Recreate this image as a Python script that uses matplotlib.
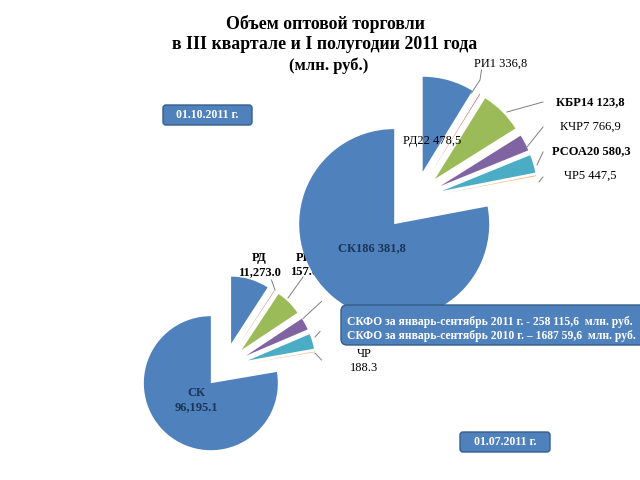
import matplotlib
matplotlib.use('Agg')
import matplotlib.pyplot as plt
from matplotlib.patches import FancyBboxPatch

plt.rcParams['font.family'] = ['Liberation Serif', 'DejaVu Serif']

# slice order (clockwise from top): РД, РИ, КБР, КЧР, РСОА, ЧР, СК
regions = ['РД', 'РИ', 'КБР', 'КЧР', 'РСОА', 'ЧР', 'СК']
colors = ['#4F81BD', '#C0504D', '#9BBB59', '#8064A2', '#4BACC6', '#F79646', '#4F81BD']

# 01.10.2011 - angular shares (РИ, ЧР are hairlines)
oct_share = [31.5, 0.4, 26, 10, 11, 0.4, 280.7]
oct_text = ['РД22 478,5', 'РИ1 336,8', 'КБР14 123,8', 'КЧР7 766,9',
            'РСОА20 580,3', 'ЧР5 447,5', 'СК186 381,8']

# 01.07.2011
jul_share = [33, 0.4, 23, 10.5, 13, 0.4, 279.7]
jul_text = ['РД\n11,273.0', 'РИ\n157.0', '', '', '', 'ЧР\n188.3', 'СК\n96,195.1']

title = 'Объем оптовой торговли\nв III квартале и I полугодии 2011 года'
subtitle = '(млн. руб.)'
note_lines = ['СКФО за январь-сентябрь 2011 г. - 258 115,6  млн. руб.',
              'СКФО за январь-сентябрь 2010 г. – 1687 59,6  млн. руб.']


def Y(y):  # pixel-from-top -> data
    return 480 - y


fig = plt.figure(figsize=(6.4, 4.8), dpi=100)
ax = fig.add_axes([0, 0, 1, 1])

# small pie (01.07) underneath; explode is in data units here
ax.pie(jul_share, colors=colors, startangle=90, counterclock=False,
       center=(224, Y(367.6)), radius=67,
       explode=[25] * 6 + [20.4],
       wedgeprops=dict(linewidth=0, zorder=1))

# big pie (01.10) on top
ax.pie(oct_share, colors=colors, startangle=90, counterclock=False,
       center=(415, Y(199)), radius=95,
       explode=[28.3] * 6 + [32.6],
       wedgeprops=dict(linewidth=0, zorder=3))

ax.set_xlim(0, 640)
ax.set_ylim(0, 480)
ax.set_aspect('equal')
ax.axis('off')

navy = '#1B3558'
lc = '#7F7F7F'
fs = 9

# labels of the big pie
big_pos = [(432, 141), (501, 64), (590, 102), (590, 127), (591, 151), (590, 176), (372, 248)]
big_bold = [False, False, True, False, True, False, True]
for i, t in enumerate(oct_text):
    x, y = big_pos[i]
    ax.text(x, Y(y), t, ha='center', va='center', fontsize=fs,
            fontweight='bold' if big_bold[i] else 'normal',
            color=navy if i == 6 else 'black', zorder=4)

big_lines = [
    [(481.5, 70), (480, 80), (471.5, 93)],
    [(543, 102), (507, 112)],
    [(543, 127), (527, 147)],
    [(543, 152), (537, 165)],
    [(543, 177), (539, 182)],
]
for pts in big_lines:
    ax.plot([p[0] for p in pts], [Y(p[1]) for p in pts], color=lc, lw=0.7, zorder=4)

# labels of the small pie
small_pos = [(259, 265), (304, 265), None, None, None, (364, 361), (196, 400)]
for i, t in enumerate(jul_text):
    if not t:
        continue
    x, y = small_pos[i]
    ax.text(x, Y(y), t, ha='center', va='center', fontsize=fs,
            fontweight='bold' if i in (0, 1, 6) else 'normal',
            color=navy if i == 6 else 'black', linespacing=1.2, zorder=2)

small_lines = [
    [(271.5, 280), (275, 290)],
    [(303, 277), (288, 298)],
    [(321.5, 301.5), (303, 318.5)],
    [(320, 331.5), (315, 337)],
    [(315, 353), (321.5, 360)],
]
for pts in small_lines:
    ax.plot([p[0] for p in pts], [Y(p[1]) for p in pts], color=lc, lw=0.7, zorder=2)

# title
ax.text(325, Y(34), title, ha='center', va='center', fontsize=12.8,
        fontweight='bold', linespacing=1.2, zorder=5)
ax.text(329, Y(66), subtitle, ha='center', va='center', fontsize=12,
        fontweight='bold', zorder=5)

# date boxes
for (x0, y0, x1, y1), t in [((163, 105, 252, 125), '01.10.2011 г.'),
                            ((460, 432, 550, 452), '01.07.2011 г.')]:
    ax.add_patch(FancyBboxPatch((x0, Y(y1)), x1 - x0, y1 - y0,
                                boxstyle='round,pad=0,rounding_size=3',
                                fc='#4F81BD', ec='#385D8A', lw=1, zorder=6))
    ax.text((x0 + x1) / 2, Y((y0 + y1) / 2), t, ha='center', va='center',
            fontsize=8.6, fontweight='bold', color='white', zorder=7)

# summary box (runs off the right edge as in the slide)
ax.add_patch(FancyBboxPatch((341, Y(345)), 330, 40,
                            boxstyle='round,pad=0,rounding_size=6',
                            fc='#4F81BD', ec='#385D8A', lw=1, zorder=6))
for k, line in enumerate(note_lines):
    ax.text(347, Y(321.5 + k * 14), line, ha='left', va='center', fontsize=8.4,
            fontweight='bold', color='white', zorder=7)

fig.savefig('out.png', dpi=100)
